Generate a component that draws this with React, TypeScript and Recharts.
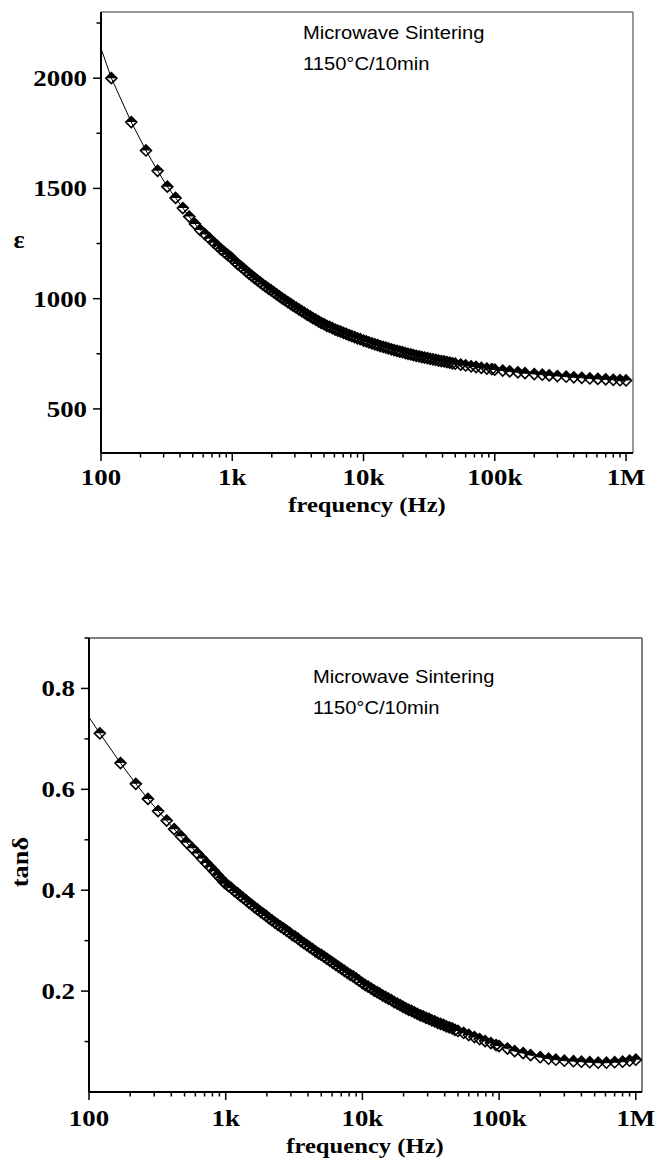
import React from 'react';
import { LineChart, Line, XAxis, YAxis, ReferenceLine } from 'recharts';

// frequency (Hz); first entry is where the connecting line starts (no symbol drawn there)
const FREQ = [
  100, 120, 170, 220, 270, 320, 370, 420, 470, 520, 570, 620, 670, 720, 770, 820, 870, 920, 970,
  1000, 1050, 1100, 1160, 1220, 1280, 1340, 1410, 1480, 1550, 1630, 1710, 1800, 1890, 1980, 2080, 2180, 2290, 2400, 2520,
  2650, 2780, 2920, 3070, 3220, 3380, 3550, 3730, 3920, 4110, 4320, 4540, 4760, 5000, 5250, 5510, 5790, 6080, 6380, 6700,
  7040, 7390, 7760, 8150, 8560, 8990, 9440,
  10000, 10500, 11000, 11600, 12200, 12800, 13400, 14100, 14800, 15500, 16300, 17100, 18000, 18900, 19800, 20800, 21800,
  22900, 24000, 25200, 26500, 27800, 29200, 30700, 32200, 33800, 35500, 37300, 39200, 41100, 43200, 45400, 47600,
  50000, 55000, 60000, 66000, 72000, 79000, 87000, 95000,
  100000, 115000, 130000, 150000, 170000, 200000, 230000, 260000, 300000, 350000, 400000, 460000, 530000, 610000,
  700000, 800000, 900000, 1000000,
];

// dielectric constant
const EPS = [
  2135, 2000, 1801, 1672, 1580, 1508, 1457, 1411, 1372, 1339, 1311, 1292, 1273, 1255, 1239, 1224, 1211, 1199, 1188,
  1180, 1168, 1157, 1146, 1135, 1124, 1114, 1103, 1093, 1084, 1074, 1064, 1055, 1045, 1037, 1028, 1019, 1010, 1001, 993,
  984, 976, 967, 959, 951, 943, 935, 927, 920, 912, 905, 897, 890, 884, 877, 872, 866, 860, 855, 850,
  845, 840, 835, 830, 825, 820, 816,
  810, 806, 802, 797, 793, 789, 785, 781, 778, 774, 770, 767, 763, 760, 757, 753, 750,
  747, 744, 741, 738, 735, 733, 730, 727, 725, 722, 719, 717, 715, 712, 710, 707,
  705, 701, 697, 693, 690, 686, 683, 680,
  678, 674, 670, 666, 662, 658, 655, 652, 649, 646, 643, 641, 638, 636,
  634, 632, 630, 629,
];

// loss tangent
const TAN = [
  0.743, 0.711, 0.652, 0.611, 0.581, 0.557, 0.538, 0.521, 0.507, 0.494, 0.483, 0.473, 0.463, 0.454, 0.446, 0.438, 0.43, 0.423, 0.416,
  0.413, 0.408, 0.404, 0.398, 0.394, 0.389, 0.385, 0.38, 0.375, 0.371, 0.366, 0.362, 0.357, 0.353, 0.349, 0.344, 0.34, 0.336, 0.332, 0.328,
  0.324, 0.32, 0.316, 0.311, 0.308, 0.304, 0.299, 0.295, 0.291, 0.287, 0.283, 0.279, 0.275, 0.272, 0.268, 0.264, 0.26, 0.256, 0.252, 0.248,
  0.244, 0.24, 0.236, 0.232, 0.229, 0.225, 0.221,
  0.216, 0.212, 0.209, 0.205, 0.201, 0.198, 0.195, 0.191, 0.188, 0.185, 0.182, 0.178, 0.175, 0.172, 0.169, 0.166, 0.163,
  0.161, 0.158, 0.155, 0.152, 0.15, 0.147, 0.145, 0.142, 0.14, 0.137, 0.135, 0.133, 0.13, 0.128, 0.126, 0.123,
  0.121, 0.117, 0.113, 0.109, 0.105, 0.101, 0.097, 0.093,
  0.091, 0.086, 0.081, 0.077, 0.073, 0.069, 0.066, 0.064, 0.062, 0.061, 0.06, 0.059, 0.058, 0.058,
  0.059, 0.06, 0.062, 0.064,
];

const X_TICKS = [
  100, 200, 300, 400, 500, 600, 700, 800, 900,
  1000, 2000, 3000, 4000, 5000, 6000, 7000, 8000, 9000,
  10000, 20000, 30000, 40000, 50000, 60000, 70000, 80000, 90000,
  100000, 200000, 300000, 400000, 500000, 600000, 700000, 800000, 900000,
  1000000,
];
const X_MAJOR = [100, 1000, 10000, 100000, 1000000];
const X_LABELS = ['100', '1k', '10k', '100k', '1M'];

const EPS_TICKS = [500, 750, 1000, 1250, 1500, 1750, 2000, 2250];
const EPS_MAJOR = [500, 1000, 1500, 2000];
const TAN_TICKS = [0.1, 0.2, 0.3, 0.4, 0.5, 0.6, 0.7, 0.8, 0.9];
const TAN_MAJOR = [0.2, 0.4, 0.6, 0.8];

const ANNOT_1 = 'Microwave Sintering';
const ANNOT_2 = '1150°C/10min';

const data = FREQ.map((f, i) => ({ f, eps: EPS[i], tan: TAN[i] }));

const SERIF = 'Liberation Serif, Times New Roman, serif';
const SANS = 'Liberation Sans, Arial, sans-serif';

function XTick(props: any) {
  const { x, y, payload, base } = props;
  const i = X_MAJOR.indexOf(payload.value);
  const major = i >= 0;
  return (
    <g>
      <line x1={x} x2={x} y1={y} y2={y + (major ? 8 : 4.5)} stroke="#000" strokeWidth={1.5} />
      {major && (
        <text
          transform={`translate(${x},${y + base}) scale(1.12,1)`}
          textAnchor="middle"
          fontFamily={SERIF}
          fontWeight="bold"
          fontSize={24}
          fill="#000"
        >
          {X_LABELS[i]}
        </text>
      )}
    </g>
  );
}

function YTick(props: any) {
  const { x, y, payload, majors, fmt } = props;
  const major = majors.indexOf(payload.value) >= 0;
  return (
    <g>
      <line x1={x - (major ? 8 : 4.5)} x2={x} y1={y} y2={y} stroke="#000" strokeWidth={1.5} />
      {major && (
        <text
          transform={`translate(${x - 14},${y + 8}) scale(1.12,1)`}
          textAnchor="end"
          fontFamily={SERIF}
          fontWeight="bold"
          fontSize={24}
          fill="#000"
        >
          {fmt(payload.value)}
        </text>
      )}
    </g>
  );
}

function renderDiamond(props: any) {
  const { cx, cy, index } = props;
  if (index === 0 || cx == null || cy == null) return <g key={`d${index}`} />;
  const r = 5.5;
  return (
    <g key={`d${index}`}>
      <path d={`M${cx - r},${cy}L${cx},${cy - r}L${cx + r},${cy}Z`} fill="#000" />
      <path
        d={`M${cx - r},${cy}L${cx},${cy - r}L${cx + r},${cy}L${cx},${cy + r}Z`}
        fill="none"
        stroke="#000"
        strokeWidth={1.6}
        strokeLinejoin="miter"
      />
    </g>
  );
}

export default function App() {
  return (
    <div style={{ position: 'absolute', left: 0, top: 0, width: 657, height: 1171, background: '#fff' }}>
      <div style={{ position: 'absolute', left: 0, top: 0 }}>
        <LineChart width={657} height={540} data={data} margin={{ top: 12, right: 24, left: 0, bottom: 0 }}>
          <XAxis
            dataKey="f"
            type="number"
            scale="log"
            domain={[100, 1130000]}
            allowDataOverflow
            ticks={X_TICKS}
            interval={0}
            height={87}
            tickSize={0}
            tickMargin={0}
            tickLine={false}
            axisLine={{ stroke: '#000', strokeWidth: 2 }}
            tick={(p: any) => <XTick {...p} base={32} />}
          />
          <YAxis
            type="number"
            domain={[300, 2300]}
            allowDataOverflow
            ticks={EPS_TICKS}
            interval={0}
            width={101}
            tickSize={0}
            tickMargin={0}
            tickLine={false}
            axisLine={{ stroke: '#000', strokeWidth: 2 }}
            tick={(p: any) => <YTick {...p} majors={EPS_MAJOR} fmt={(v: number) => String(v)} />}
          />
          <ReferenceLine y={2300} stroke="#777" strokeWidth={1.5} />
          <ReferenceLine x={1130000} stroke="#777" strokeWidth={1.5} />
          <Line
            dataKey="eps"
            type="linear"
            stroke="#000"
            strokeWidth={1}
            dot={renderDiamond}
            activeDot={false}
            isAnimationActive={false}
          />
        </LineChart>
      </div>
      <div style={{ position: 'absolute', left: 0, top: 600 }}>
        <LineChart width={657} height={571} data={data} margin={{ top: 38, right: 15, left: 0, bottom: 0 }}>
          <XAxis
            dataKey="f"
            type="number"
            scale="log"
            domain={[100, 1110000]}
            allowDataOverflow
            ticks={X_TICKS}
            interval={0}
            height={79}
            tickSize={0}
            tickMargin={0}
            tickLine={false}
            axisLine={{ stroke: '#000', strokeWidth: 2 }}
            tick={(p: any) => <XTick {...p} base={34} />}
          />
          <YAxis
            type="number"
            domain={[0, 0.9]}
            allowDataOverflow
            ticks={TAN_TICKS}
            interval={0}
            width={89}
            tickSize={0}
            tickMargin={0}
            tickLine={false}
            axisLine={{ stroke: '#000', strokeWidth: 2 }}
            tick={(p: any) => <YTick {...p} majors={TAN_MAJOR} fmt={(v: number) => v.toFixed(1)} />}
          />
          <ReferenceLine y={0.9} stroke="#555" strokeWidth={1.5} />
          <ReferenceLine x={1110000} stroke="#555" strokeWidth={1.5} />
          <Line
            dataKey="tan"
            type="linear"
            stroke="#000"
            strokeWidth={1}
            dot={renderDiamond}
            activeDot={false}
            isAnimationActive={false}
          />
        </LineChart>
      </div>
      <svg
        width={657}
        height={1171}
        style={{ position: 'absolute', left: 0, top: 0, pointerEvents: 'none' }}
      >
        <text x={19} y={248} textAnchor="middle" fontFamily={SERIF} fontWeight="bold" fontSize={26} fill="#000">
          ε
        </text>
        <text
          transform="translate(28,862) rotate(-90) scale(1.1,1)"
          textAnchor="middle"
          fontFamily={SERIF}
          fontWeight="bold"
          fontSize={24}
          fill="#000"
        >
          tanδ
        </text>
        <text transform="translate(367,512) scale(1.12,1)" textAnchor="middle" fontFamily={SERIF} fontWeight="bold" fontSize={22} fill="#000">
          frequency (Hz)
        </text>
        <text transform="translate(365,1153) scale(1.12,1)" textAnchor="middle" fontFamily={SERIF} fontWeight="bold" fontSize={22} fill="#000">
          frequency (Hz)
        </text>
        <text transform="translate(303,39) scale(1.09,1)" fontFamily={SANS} fontSize={18.5} fill="#000">
          {ANNOT_1}
        </text>
        <text transform="translate(303,70) scale(1.09,1)" fontFamily={SANS} fontSize={18.5} fill="#000">
          {ANNOT_2}
        </text>
        <text transform="translate(313,683) scale(1.09,1)" fontFamily={SANS} fontSize={18.5} fill="#000">
          {ANNOT_1}
        </text>
        <text transform="translate(313,714) scale(1.09,1)" fontFamily={SANS} fontSize={18.5} fill="#000">
          {ANNOT_2}
        </text>
      </svg>
    </div>
  );
}
